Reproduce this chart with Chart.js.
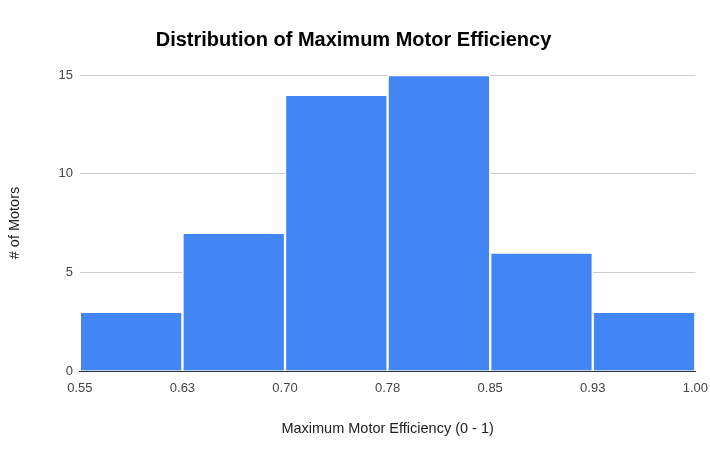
<!DOCTYPE html>
<html>
<head>
<meta charset="utf-8">
<script src="https://cdn.jsdelivr.net/npm/chart.js@4/dist/chart.umd.min.js"></script>
<style>
  body { margin: 0; background: #fff; }
  #wrap { width: 710px; height: 454px; }
</style>
</head>
<body>
<div id="wrap"><canvas id="myChart"></canvas></div>
<script>
// histogram bins (edges) and counts
const edgeLabels = ['0.55', '0.63', '0.70', '0.78', '0.85', '0.93', '1.00'];
const counts = [3, 7, 14, 15, 6, 3];
const yTicks = [0, 5, 10, 15];

const points = counts.map((c, i) => ({ x: i + 0.5, y: c }));

const ctx = document.getElementById('myChart').getContext('2d');
new Chart(ctx, {
    type: 'bar',
    data: {
        datasets: [{
            label: '# of Motors',
            data: points,
            backgroundColor: '#4285F4',
            borderColor: '#ffffff',
            borderWidth: 1.5,
            borderSkipped: 'bottom',
            borderRadius: { topLeft: 2, topRight: 2 },
            barPercentage: 1,
            categoryPercentage: 1
        }]
    },
    options: {
        responsive: true,
        maintainAspectRatio: false,
        animation: false,
        layout: { padding: { left: 6, right: 9, top: 14, bottom: 16 } },
        plugins: {
            legend: { display: false },
            tooltip: { enabled: false },
            title: {
                display: true,
                text: 'Distribution of Maximum Motor Efficiency',
                color: '#000',
                font: { family: 'Liberation Sans', size: 20, weight: 'bold' },
                padding: { top: 14, bottom: 23 }
            }
        },
        scales: {
            x: {
                type: 'linear',
                min: 0,
                max: edgeLabels.length - 1,
                offset: false,
                grid: { display: false, drawTicks: true, tickLength: 8 },
                border: { display: true, color: '#333', width: 1 },
                ticks: {
                    stepSize: 1,
                    autoSkip: false,
                    maxRotation: 0,
                    padding: 2,
                    color: '#444',
                    font: { family: 'Liberation Sans', size: 13 },
                    callback: v => edgeLabels[v]
                },
                title: {
                    display: true,
                    text: 'Maximum Motor Efficiency (0 - 1)',
                    color: '#222',
                    font: { family: 'Liberation Sans', size: 14.5 },
                    padding: { top: 22, bottom: 0 }
                }
            },
            y: {
                min: 0,
                max: yTicks[yTicks.length - 1],
                grid: { color: '#cccccc', drawTicks: false },
                border: { display: false },
                afterBuildTicks: axis => { axis.ticks = yTicks.map(v => ({ value: v })); },
                ticks: {
                    padding: 7,
                    color: '#444',
                    font: { family: 'Liberation Sans', size: 13 }
                },
                title: {
                    display: true,
                    text: '# of Motors',
                    color: '#222',
                    font: { family: 'Liberation Sans', size: 14.5 },
                    padding: { top: 0, bottom: 28 }
                }
            }
        }
    }
});
</script>
</body>
</html>
